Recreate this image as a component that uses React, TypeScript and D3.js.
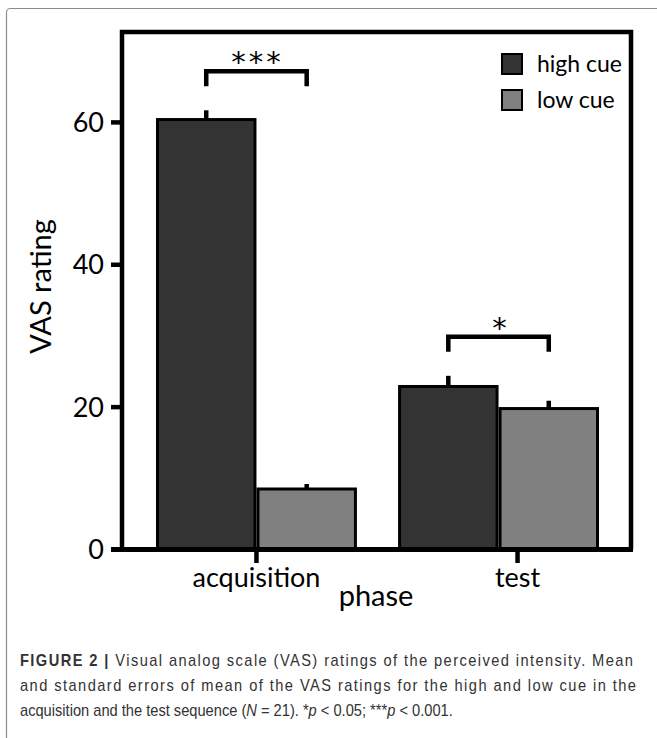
import React from 'react';
import * as d3 from 'd3';

// values
const phases = ['acquisition', 'test'];
const cues = ['high cue', 'low cue'];
const highMeans = [60.4, 22.9];
const highSE = [1.3, 1.5];
const lowMeans = [8.5, 19.8];
const lowSE = [0.7, 1.1];
const yTicks = [0, 20, 40, 60];
const sigLabels = ['***', '*'];
const captionLines = [
  'Visual analog scale (VAS) ratings of the perceived intensity. Mean',
  'and standard errors of mean of the VAS ratings for the high and low cue in the',
  'acquisition and the test sequence (',
];

const W = 657;
const H = 738;
const left = 122;
const right = 631;
const top = 32;
const bottom = 549.5;
const colors = ['#333333', '#808080'];
const font = "Lato, 'Open Sans', sans-serif";
const capScale = 0.862;

const App = () => {
  const y = d3.scaleLinear().domain([0, 72.7]).range([bottom, top]);
  const x0 = d3.scaleBand().domain(phases).range([156, 599]).paddingInner(0.17);
  const x1 = d3.scaleBand().domain(cues).range([0, x0.bandwidth()]);
  // Prism put the "test" tick a little right of its bars
  const tickShift = { acquisition: 0, test: 19 };

  const series = [
    { cue: cues[0], means: highMeans, se: highSE },
    { cue: cues[1], means: lowMeans, se: lowSE },
  ];

  return (
    <svg width={W} height={H} style={{ position: 'absolute', left: 0, top: 0, background: '#fff' }}>
      <rect x={6.5} y={8.5} width={700} height={760} rx={4} fill="none" stroke="#8c8c8c" strokeWidth={1.2} />

      {/* bars */}
      {series.map((s, si) =>
        phases.map((p, pi) => {
          const bx = (x0(p) as number) + (x1(s.cue) as number);
          const bw = x1.bandwidth();
          const cx = bx + bw / 2;
          return (
            <g key={s.cue + p}>
              <line x1={cx} x2={cx} y1={y(s.means[pi])} y2={y(s.means[pi] + s.se[pi])} stroke="#000" strokeWidth={4.5} />
              <rect x={bx + 1.5} y={y(s.means[pi])} width={bw - 3} height={bottom - y(s.means[pi])}
                fill={colors[si]} stroke="#000" strokeWidth={3} />
            </g>
          );
        })
      )}

      {/* frame + axes */}
      <path d={`M${left},${bottom} V${top} H${right} V${bottom}`} fill="none" stroke="#000" strokeWidth={4.5} />
      <line x1={111} x2={right + 2} y1={bottom} y2={bottom} stroke="#000" strokeWidth={5} />
      {yTicks.map((t) => (
        <g key={t}>
          <line x1={111} x2={left} y1={y(t)} y2={y(t)} stroke="#000" strokeWidth={4.5} />
          <text x={104} y={y(t)} dy="0.35em" textAnchor="end" fontFamily={font} fontSize={27} fill="#000">{t}</text>
        </g>
      ))}
      {phases.map((p) => {
        const cx = (x0(p) as number) + x0.bandwidth() / 2 + tickShift[p as 'acquisition' | 'test'];
        return (
          <g key={p}>
            <line x1={cx} x2={cx} y1={bottom} y2={563} stroke="#000" strokeWidth={4.5} />
            <text x={cx} y={587} textAnchor="middle" fontFamily={font} fontSize={27} fill="#000">{p}</text>
          </g>
        );
      })}
      <text x={376} y={606} textAnchor="middle" fontFamily={font} fontSize={29} fill="#000">phase</text>
      <text transform={`translate(51,${(220 + 353) / 2}) rotate(-90)`} textAnchor="middle" fontFamily={font} fontSize={29} fill="#000">VAS rating</text>

      {/* significance brackets */}
      {phases.map((p, pi) => {
        const gx = x0(p) as number;
        const xa = gx + x1.bandwidth() / 2;
        const xb = gx + x1.bandwidth() * 1.5;
        const peak = Math.max(highMeans[pi] + highSE[pi], lowMeans[pi] + lowSE[pi]);
        const yb = y(peak) - 39;
        return (
          <g key={'sig' + p}>
            <path d={`M${xa},${yb + 15} V${yb} H${xb} V${yb + 15}`} fill="none" stroke="#000" strokeWidth={4.5} />
            <text x={(xa + xb) / 2 + 1} y={yb + 1} textAnchor="middle" letterSpacing={pi === 0 ? 3 : 0}
              fontFamily="'DejaVu Sans', sans-serif" fontSize={29} fill="#000">{sigLabels[pi]}</text>
          </g>
        );
      })}

      {/* legend */}
      {cues.map((c, i) => (
        <g key={c} transform={`translate(501,${53 + i * 36})`}>
          <rect x={1} y={1} width={20} height={20} fill={colors[i]} stroke="#000" strokeWidth={2} />
          <text x={36} y={11} dy="0.35em" fontFamily={font} fontSize={23} fill="#000">{c}</text>
        </g>
      ))}

      {/* caption, squeezed to look like the condensed journal face */}
      <g transform={`translate(20,0) scale(${capScale},1)`} fontFamily="'Liberation Sans', Arial, sans-serif" fontSize={17} fill="#333">
        <text x={0} y={666} textLength={613 / capScale} lengthAdjust="spacing">
          <tspan fontWeight="bold">FIGURE 2 | </tspan>
          <tspan>{captionLines[0]}</tspan>
        </text>
        <text x={0} y={691} textLength={616 / capScale} lengthAdjust="spacing">{captionLines[1]}</text>
        <text x={0} y={716}>
          {captionLines[2]}
          <tspan fontStyle="italic">N</tspan> = 21). *<tspan fontStyle="italic">p</tspan> {'<'} 0.05; ***<tspan fontStyle="italic">p</tspan> {'<'} 0.001.
        </text>
      </g>
    </svg>
  );
};

export default App;
